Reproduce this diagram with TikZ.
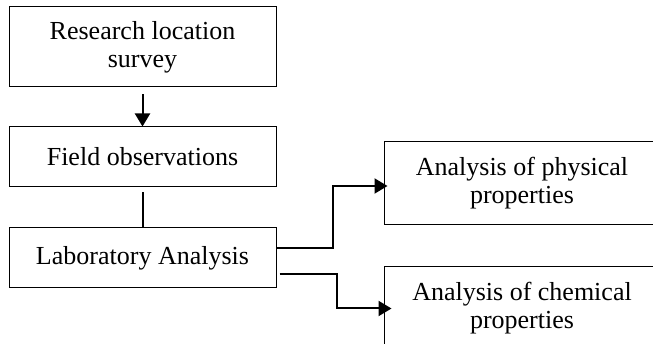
\documentclass[tikz,border=0pt]{standalone}
\usepackage{fontspec}
\setmainfont{Liberation Serif}
\usetikzlibrary{arrows.meta}
\begin{document}
\begin{tikzpicture}[x=1pt,y=-1pt,
  box/.style={draw, line width=1pt, align=center, inner sep=0pt,
    font=\fontsize{26}{28}\selectfont},
  conn/.style={line width=2pt, -{Triangle[length=13pt,width=15pt]}},
  plain/.style={line width=2pt}
]
\useasboundingbox (0,0) rectangle (653,344);
\clip (0,0) rectangle (653,344);
\fill[white] (0,0) rectangle (653,344);
\node[box, minimum width=267pt, minimum height=80pt] (b1) at (142.5,47) {Research location\\survey};
\node[box, minimum width=267pt, minimum height=60pt] (b2) at (142.5,157) {Field observations};
\node[box, minimum width=267pt, minimum height=60pt] (b3) at (142.5,258) {Laboratory Analysis};
\node[box, minimum width=276pt, minimum height=83pt] (b4) at (522,183.5) {Analysis of physical\\properties};
\node[box, minimum width=276pt, minimum height=83pt] (b5) at (522,308.5) {Analysis of chemical\\properties};
\draw[conn] ([yshift=-7pt]b1.south) -- (b2.north);
\draw[plain] ([yshift=-5pt]b2.south) -- (b3.north);
\draw[conn] ([yshift=10pt]b3.east) -- ++(56,0) |- ([xshift=4pt,yshift=-2.5pt]b4.west);
\draw[conn] ([xshift=3pt,yshift=-16pt]b3.east) -- ++(57,0) |- ([xshift=8pt]b5.west);
\end{tikzpicture}
\end{document}
